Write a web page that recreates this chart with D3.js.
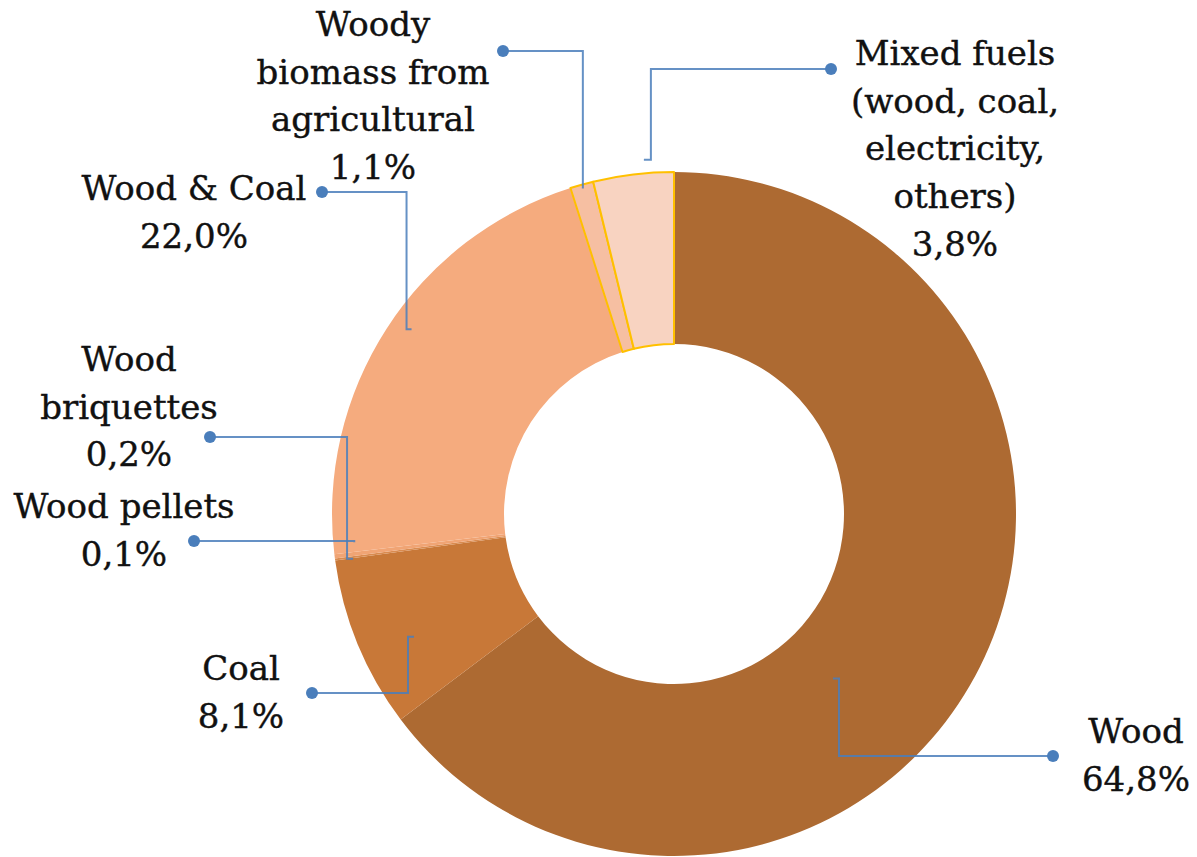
<!DOCTYPE html>
<html>
<head>
<meta charset="utf-8">
<script src="https://cdn.jsdelivr.net/npm/d3@7"></script>
<style>
  body { margin: 0; background: #fff; }
  svg { display: block; }
  text { font-family: "DejaVu Serif", serif; font-size: 34px; fill: #111; stroke: #111; stroke-width: 0.4px; }
</style>
</head>
<body>
<div id="chart"></div>
<script>
// data
var categories = ["Wood", "Coal", "Wood pellets", "Wood briquettes", "Wood & Coal",
                  "Woody biomass from agricultural", "Mixed fuels (wood, coal, electricity, others)"];
var shares = [64.8, 8.1, 0.1, 0.2, 22.0, 1.1, 3.8];
var labelLines = [
    ["Wood"],
    ["Coal"],
    ["Wood pellets"],
    ["Wood", "briquettes"],
    ["Wood & Coal"],
    ["Woody", "biomass from", "agricultural"],
    ["Mixed fuels", "(wood, coal,", "electricity,", "others)"]
];
var colors = ["#ad6a32", "#c87838", "#d98b50", "#f0a474", "#f5ab7e", "#f6bfa2", "#f8d3c1"];

// label layout: text centre x, first baseline, dot position, leader end (angle offset deg, radius), end tick
var labelLayout = [
    {x: 1136, y: 743, dot: [1053, 756], off: 18.4, r: 233, tick: -6},
    {x: 241,  y: 680, dot: [312, 693],  off: -2.4, r: 293, tick: 6},
    {x: 124,  y: 518, dot: [194, 541],  off: 2.6,  r: 321, tick: 0},
    {x: 129,  y: 371, dot: [210, 437],  off: -0.7, r: 330, tick: 6},
    {x: 194,  y: 200, dot: [322, 192],  off: 1.8,  r: 325, tick: 5},
    {x: 373,  y: 36,  dot: [503, 51],   off: 0,    r: 338, tick: 0},
    {x: 955,  y: 65,  dot: [831, 69],   off: 3.1,  r: 355, tick: -7}
];

var width = 1197, height = 857;
var cx = 674, cy = 514, outerR = 342, innerR = 170;
var lineStep = 47.7;

var svg = d3.select("#chart").append("svg")
    .attr("width", width)
    .attr("height", height);

var pie = d3.pie().sort(null).value(function(d) { return d; });
var arcs = pie(shares);

var arc = d3.arc().innerRadius(innerR).outerRadius(outerR);

var g = svg.append("g").attr("transform", "translate(" + cx + "," + cy + ")");

g.selectAll("path")
    .data(arcs)
    .enter().append("path")
    .attr("d", arc)
    .attr("fill", function(d, i) { return colors[i]; })
    .attr("stroke", function(d, i) { return i >= 5 ? "#ffc000" : "none"; })
    .attr("stroke-width", 2)
    .attr("stroke-linejoin", "round");

// leader lines
function polar(angle, r) {
    return [cx + r * Math.sin(angle), cy - r * Math.cos(angle)];
}

var leaders = svg.append("g").attr("class", "leaders");
arcs.forEach(function(a, i) {
    var lay = labelLayout[i];
    var mid = (a.startAngle + a.endAngle) / 2 + lay.off * Math.PI / 180;
    var end = polar(mid, lay.r);
    var pts = [lay.dot, [end[0], lay.dot[1]], end];
    if (lay.tick) pts.push([end[0] + lay.tick, end[1]]);
    leaders.append("path")
        .attr("d", d3.line()(pts))
        .attr("fill", "none")
        .attr("stroke", "#4a7ebb")
        .attr("stroke-opacity", 0.85)
        .attr("stroke-width", 2);
    leaders.append("circle")
        .attr("cx", lay.dot[0])
        .attr("cy", lay.dot[1])
        .attr("r", 6)
        .attr("fill", "#4a7ebb");
});

// labels
var fmt = function(v) { return v.toFixed(1).replace(".", ",") + "%"; };
var labels = svg.append("g").attr("class", "labels");
labelLines.forEach(function(lines, i) {
    var lay = labelLayout[i];
    var t = labels.append("text")
        .attr("text-anchor", "middle")
        .attr("x", lay.x)
        .attr("y", lay.y);
    lines.concat([fmt(shares[i])]).forEach(function(s, k) {
        t.append("tspan")
            .attr("x", lay.x)
            .attr("dy", k === 0 ? 0 : lineStep)
            .text(s);
    });
});
</script>
</body>
</html>
